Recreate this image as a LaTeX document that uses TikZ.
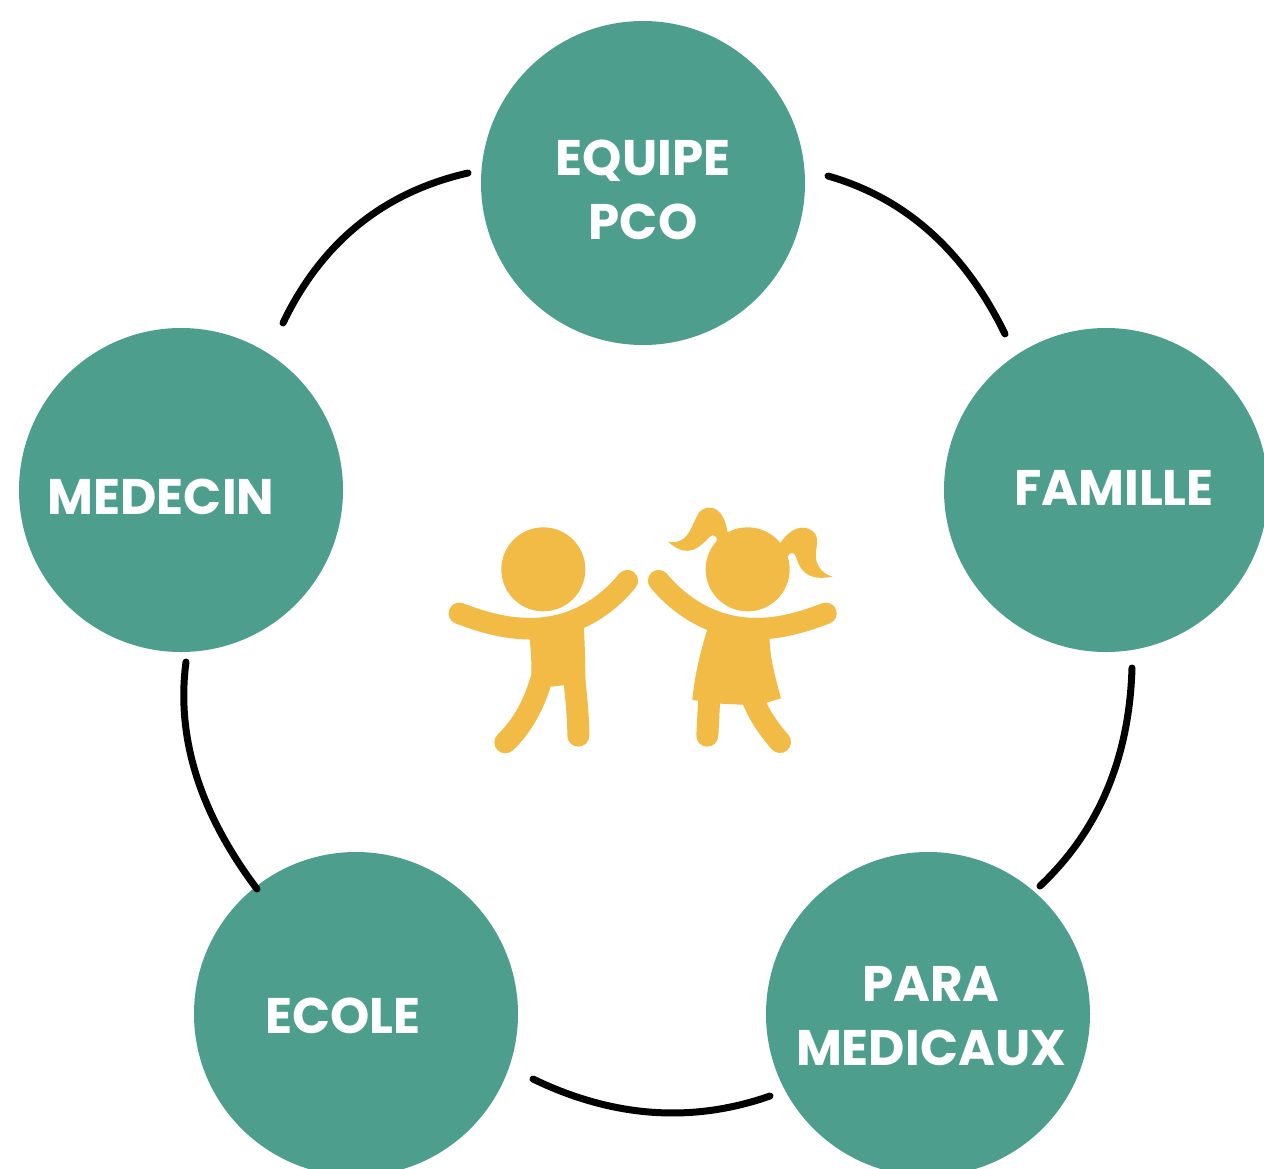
\documentclass[tikz,border=0pt]{standalone}
\usepackage{fontspec}
\setmainfont{Poppins}[BoldFont={Poppins Bold}]
\definecolor{teal}{HTML}{4E9E8D}
\definecolor{kid}{HTML}{F2BB46}
\tikzset{
  disc/.style={circle,fill=teal,minimum size=324pt,inner sep=0pt,outer sep=0pt},
  lab/.style={text=white,font=\fontsize{50}{64}\selectfont\bfseries,align=center,inner sep=0pt},
  link/.style={draw=black,line width=7pt,line cap=round},
  limb/.style={draw=kid,line width=22pt,line cap=round},
}
\begin{document}
\begin{tikzpicture}[x=1pt,y=-1pt]
\clip (0,0) rectangle (1264,1168);
\useasboundingbox (0,0) rectangle (1264,1168);
\fill[white] (0,0) rectangle (1264,1168);
\node[disc] (equipe) at (643,183) {};
\node[disc] (famille) at (1106,490) {};
\node[disc] (para) at (928,1014) {};
\node[disc] (ecole) at (356,1014) {};
\node[disc] (medecin) at (181,490) {};
\node[lab] (l1) at (643,190) {EQUIPE\\PCO};
\node[lab] (l2) at (1114,488) {FAMILLE};
\node[lab] (l3) at (931,1016) {PARA\\MEDICAUX};
\node[lab] (l4) at (343,1016) {ECOLE};
\node[lab] (l5) at (161,497) {MEDECIN};
\coordinate (a1) at (468,173); \coordinate (b1) at (283,323);
\coordinate (a2) at (828,176); \coordinate (b2) at (1005,334);
\coordinate (a3) at (1132,668); \coordinate (b3) at (1040,886);
\coordinate (a4) at (770,1096); \coordinate (b4) at (533,1079);
\coordinate (a5) at (257,889); \coordinate (b5) at (186,662);
\draw[link] (a1) .. controls (383.3,192.3) and (321.7,242.3) .. (b1);
\draw[link] (a2) .. controls (905.3,198) and (964.3,250.7) .. (b2);
\draw[link] (a3) .. controls (1129.3,758) and (1098.7,830.7) .. (b3);
\draw[link] (a4) .. controls (692,1123.3) and (613,1117.7) .. (b4);
\draw[link] (a5) .. controls (199.7,813) and (176,737.3) .. (b5);
\begin{scope}[shift={(430,490)},x=0.33333pt,y=-0.33333pt]
  % boy
  \fill[kid] (340,238) circle[radius=42pt];
  \draw[limb,line width=21.5pt] (88,370) .. controls (160,398) and (230,416) .. (300,416) .. controls (420,416) and (520,360) .. (592,272);
  \fill[kid] (297,430) .. controls (303,480) and (305,520) .. (304,560) -- (365,590) -- (398,586) -- (466,580) .. controls (466,520) and (465,470) .. (461,405) -- cycle;
  \draw[limb] (335,565) .. controls (310,650) and (275,710) .. (226,757);
  \draw[limb] (432,560) .. controls (440,630) and (445,690) .. (445,737);
  % girl
  \fill[kid] (953,238) circle[radius=42pt];
  \draw[limb,line width=21.5pt] (686,272) .. controls (760,360) and (860,416) .. (980,416) .. controls (1050,416) and (1120,396) .. (1188,370);
  \fill[kid] (833,415) .. controls (810,490) and (795,550) .. (787,630) -- (872,641) -- (932,644) -- (1003,640) -- (1053,625) .. controls (1030,540) and (1020,500) .. (1018,435) -- cycle;
  \draw[limb] (838,620) -- (832,737);
  \draw[limb] (965,620) .. controls (985,670) and (1010,710) .. (1050,756);
  % ponytails
  \fill[kid] (714,155) .. controls (770,165) and (780,120) .. (800,80) .. controls (815,40) and (880,35) .. (892,125) -- (905,135) -- (860,155) .. controls (865,140) and (850,130) .. (840,140) .. controls (810,170) and (775,210) .. (714,155) -- cycle;
  \fill[kid] (1052,158) .. controls (1080,115) and (1120,100) .. (1150,125) .. controls (1175,150) and (1150,180) .. (1160,215) .. controls (1170,245) and (1190,255) .. (1208,260) .. controls (1150,270) and (1115,260) .. (1098,200) .. controls (1090,180) and (1075,190) .. (1074,200) -- (1040,170) -- cycle;
\end{scope}
\end{tikzpicture}
\end{document}
